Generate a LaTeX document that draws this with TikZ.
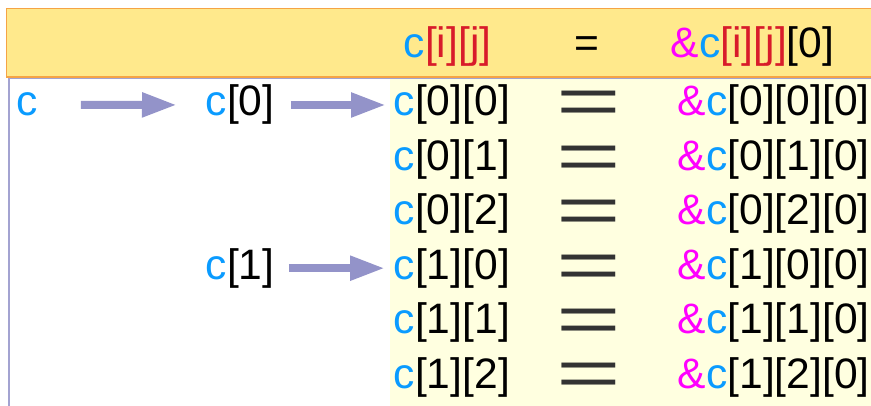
\documentclass[tikz,border=0pt]{standalone}
\usepackage{fontspec}
\setmainfont{Liberation Sans}
\usetikzlibrary{arrows.meta}
\definecolor{headfill}{HTML}{FFE98C}
\definecolor{headline}{HTML}{F5A445}
\definecolor{boxline}{HTML}{A3A3D1}
\definecolor{cellfill}{HTML}{FFFFE0}
\definecolor{arrowcol}{HTML}{9393C9}
\definecolor{ptrblue}{HTML}{0A9BFF}
\definecolor{idxred}{HTML}{D81B2A}
\definecolor{addrpink}{HTML}{FF00FF}
\definecolor{eqgray}{HTML}{333333}
\newcommand{\ptrc}{\textcolor{ptrblue}{c}}
\newcommand{\addr}{\textcolor{addrpink}{\&}}
\newcommand{\idxij}{\textcolor{idxred}{[i][j]}}

\begin{document}
\begin{tikzpicture}[
    x=0.5pt, y=-0.5pt,
    txt/.style={anchor=base west, inner sep=0, font=\fontsize{21.3}{25}\selectfont},
    eqsign/.style={anchor=base, inner sep=0, text=eqgray, font=\fontsize{21.3}{25}\selectfont},
    ptr/.style={arrowcol, line width=4pt, -{Triangle[length=17.5pt, width=11.5pt]}}
]
\useasboundingbox (0,0) rectangle (871,406);
% table frame and header band
\fill[cellfill] (390,79) rectangle (871,406);
\draw[boxline, line width=0.75pt] (9,406) -- (9,78) -- (871,78);
\draw[headline, fill=headfill, line width=0.75pt] (871,8.5) -- (6.5,8.5) -- (6.5,77) -- (871,77);
% header
\node[txt] (hc) at (403.4,58) {\ptrc\idxij};
\node[eqsign, text=black] (heq) at (587,58) {=};
\node[txt] (ha) at (670.5,58) {\addr\ptrc\idxij[0]};
% pointer levels
\node[txt] (c) at (16.5,116) {\ptrc};
\node[txt] (c0) at (205.4,116) {\ptrc[0]};
\node[txt] (c1) at (205.4,279.2) {\ptrc[1]};
% six elements c[i][j]
\foreach \r/\i/\j/\y in {1/0/0/116, 2/0/1/170.4, 3/0/2/224.8, 4/1/0/279.2, 5/1/1/333.6, 6/1/2/388} {
  \node[txt] (m\r) at (393.4,\y) {\ptrc[\i][\j]};
  \node[eqsign] (e\r) at (589,\y+8.8) {\smash{\scalebox{2.6}[1.6]{=}}};
  \node[txt] (a\r) at (677.5,\y) {\addr\ptrc[\i][\j][0]};
}
\draw[ptr, shorten <=21.1pt, shorten >=14.2pt] (c.east) -- (c0.west);
\draw[ptr, shorten <=8pt, shorten >=3.7pt] (c0.east) -- (m1.west);
\draw[ptr, shorten <=7pt, shorten >=4.2pt] (c1.east) -- (m4.west);
\end{tikzpicture}
\end{document}
